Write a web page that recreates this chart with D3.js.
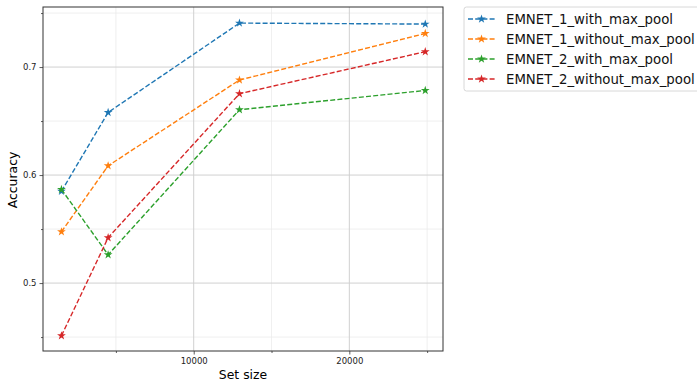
<!DOCTYPE html>
<html>
<head>
<meta charset="utf-8">
<script src="https://cdn.jsdelivr.net/npm/d3@7"></script>
<style>
  body { margin: 0; background: #fff; }
  text { font-family: "DejaVu Sans", sans-serif; }
</style>
</head>
<body>
<div class="chart"></div>
<script>
let setSizes = [1500, 4500, 12940, 24880];

let seriesNames = [
  'EMNET_1_with_max_pool',
  'EMNET_1_without_max_pool',
  'EMNET_2_with_max_pool',
  'EMNET_2_without_max_pool'
];

let emnet1With = [0.585, 0.658, 0.7407, 0.7398];
let emnet1Without = [0.5475, 0.6086, 0.688, 0.7311];
let emnet2With = [0.5867, 0.5262, 0.6605, 0.6783];
let emnet2Without = [0.4512, 0.542, 0.6753, 0.7142];

let colors = ['#1f77b4', '#ff7f0e', '#2ca02c', '#d62728'];

let xMajor = [10000, 20000];
let xMinor = [5000, 15000, 25000];
let yMajor = [0.5, 0.6, 0.7];
let yMinor = [0.45, 0.55, 0.65, 0.75];

let allSeries = [emnet1With, emnet1Without, emnet2With, emnet2Without];

let plotL = 43, plotR = 443, plotT = 7, plotB = 351;

let canvas = d3.select('.chart')
  .append('svg')
  .attr('width', 697)
  .attr('height', 385);

let x = d3.scaleLinear().domain([315, 26020]).range([plotL, plotR]);
let y = d3.scaleLinear().domain([0.4371, 0.7556]).range([plotB, plotT]);

// minor grid
canvas.append('g')
  .selectAll('line')
  .data(xMinor)
  .join('line')
  .attr('x1', d => x(d)).attr('x2', d => x(d))
  .attr('y1', plotT).attr('y2', plotB)
  .attr('stroke', '#ebebeb').attr('stroke-width', 0.8);

canvas.append('g')
  .selectAll('line')
  .data(yMinor)
  .join('line')
  .attr('x1', plotL).attr('x2', plotR)
  .attr('y1', d => y(d)).attr('y2', d => y(d))
  .attr('stroke', '#ebebeb').attr('stroke-width', 0.8);

// major grid
canvas.append('g')
  .selectAll('line')
  .data(xMajor)
  .join('line')
  .attr('x1', d => x(d)).attr('x2', d => x(d))
  .attr('y1', plotT).attr('y2', plotB)
  .attr('stroke', '#d0d0d0').attr('stroke-width', 1);

canvas.append('g')
  .selectAll('line')
  .data(yMajor)
  .join('line')
  .attr('x1', plotL).attr('x2', plotR)
  .attr('y1', d => y(d)).attr('y2', d => y(d))
  .attr('stroke', '#d0d0d0').attr('stroke-width', 1);

// axes
canvas.append('g')
  .attr('transform', `translate(0, ${plotB})`)
  .call(d3.axisBottom(x).tickValues(xMajor).tickSize(3.5).tickPadding(3).tickFormat(d3.format('d')));
canvas.append('g')
  .attr('transform', `translate(0, ${plotB})`)
  .call(d3.axisBottom(x).tickValues(xMinor).tickSize(2).tickFormat(''));

canvas.append('g')
  .attr('transform', `translate(${plotL}, 0)`)
  .call(d3.axisLeft(y).tickValues(yMajor).tickSize(3.5).tickPadding(3).tickFormat(d3.format('.1f')));
canvas.append('g')
  .attr('transform', `translate(${plotL}, 0)`)
  .call(d3.axisLeft(y).tickValues(yMinor).tickSize(2).tickFormat(''));

canvas.selectAll('.domain').remove();
canvas.selectAll('.tick line').attr('stroke', '#333').attr('stroke-width', 0.8);
canvas.selectAll('.tick text').attr('font-size', '8.5px').attr('fill', '#222')
  .attr('font-family', '"DejaVu Sans", sans-serif');

// frame
canvas.append('rect')
  .attr('x', plotL).attr('y', plotT)
  .attr('width', plotR - plotL).attr('height', plotB - plotT)
  .attr('fill', 'none').attr('stroke', '#333').attr('stroke-width', 1);

let lineFunction = d3.line()
  .x((d, i) => x(setSizes[i]))
  .y(d => y(d));

let star = d3.symbol().type(d3.symbolStar).size(24);

allSeries.forEach((vals, k) => {
  canvas.append('path')
    .attr('d', lineFunction(vals))
    .attr('stroke', colors[k])
    .attr('stroke-width', 1.4)
    .attr('stroke-dasharray', '5,2.2')
    .attr('fill', 'none');
  canvas.append('g')
    .selectAll('path')
    .data(vals)
    .join('path')
    .attr('d', star)
    .attr('fill', colors[k])
    .attr('transform', (d, i) => `translate(${x(setSizes[i])}, ${y(d)})`);
});

// axis labels
canvas.append('text')
  .attr('x', (plotL + plotR) / 2).attr('y', 378.5)
  .attr('text-anchor', 'middle')
  .attr('font-size', '12.4px')
  .text('Set size');

canvas.append('text')
  .attr('transform', `translate(17, ${(plotT + plotB) / 2 + 1}) rotate(-90)`)
  .attr('text-anchor', 'middle')
  .attr('font-size', '12.4px')
  .text('Accuracy');

// legend
let legend = canvas.append('g');
legend.append('rect')
  .attr('x', 464).attr('y', 7)
  .attr('width', 240).attr('height', 84)
  .attr('rx', 2.5)
  .attr('fill', '#fff')
  .attr('stroke', '#d8d8d8').attr('stroke-width', 1);

seriesNames.forEach((name, k) => {
  let ly = 19 + k * 20;
  legend.append('line')
    .attr('x1', 468).attr('x2', 495)
    .attr('y1', ly).attr('y2', ly)
    .attr('stroke', colors[k]).attr('stroke-width', 1.4)
    .attr('stroke-dasharray', '5,2.2');
  legend.append('path')
    .attr('d', star)
    .attr('fill', colors[k])
    .attr('transform', `translate(481.5, ${ly})`);
  legend.append('text')
    .attr('x', 506).attr('y', ly + 4.7)
    .attr('font-size', '13.3px')
    .attr('fill', '#111')
    .text(name);
});
</script>
</body>
</html>
